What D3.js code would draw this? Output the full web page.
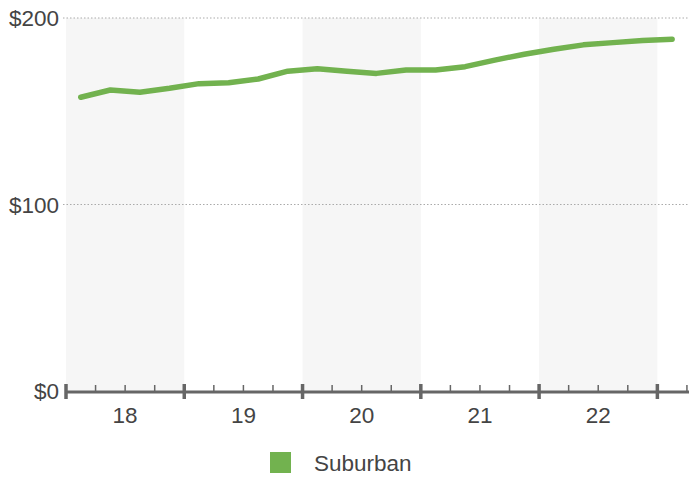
<!DOCTYPE html>
<html><head><meta charset="utf-8">
<script src="https://cdn.jsdelivr.net/npm/d3@7"></script>
<style>body{margin:0;background:#fff}svg{display:block;font-family:"Liberation Sans",Arial,sans-serif}</style>
</head><body><svg id="c" width="689" height="477"></svg>
<script>
const years = ["18","19","20","21","22"];
const quarters = ["18Q1","18Q2","18Q3","18Q4","19Q1","19Q2","19Q3","19Q4","20Q1","20Q2","20Q3","20Q4","21Q1","21Q2","21Q3","21Q4","22Q1","22Q2","22Q3","22Q4","23Q1"];
const suburban = [157.5,161.4,160.2,162.3,164.8,165.3,167.3,171.5,172.8,171.5,170.3,172.1,172.1,173.9,177.4,180.6,183.2,185.6,186.8,187.9,188.6];
const yTicks = [0,100,200];
const seriesName = "Suburban";

const svg = d3.select("#c");
const x = d3.scaleLinear().domain([0, 21.07]).range([66, 689]);
const y = d3.scaleLinear().domain([0, 200]).range([391, 18]);

// shaded bands for alternating years
years.forEach((yr, i) => {
  if (i % 2 === 0) {
    svg.append("rect").attr("x", x(i*4)).attr("y", y(200)).attr("width", x(i*4+4)-x(i*4)).attr("height", y(0)-y(200)).attr("fill", "#f6f6f6");
  }
});

// gridlines
yTicks.filter(t => t > 0).forEach(t => {
  svg.append("line").attr("x1", 63).attr("x2", 689).attr("y1", y(t)).attr("y2", y(t))
    .attr("stroke", "#aaa").attr("stroke-width", 1).attr("stroke-dasharray", "1.5,2");
});

// y labels
svg.selectAll(".yl").data(yTicks).join("text").attr("x", 59).attr("y", d => y(d)).attr("dy", "0.36em")
  .attr("text-anchor", "end").attr("font-size", 22.5).attr("fill", "#444").text(d => "$" + d);

// line
const line = d3.line().x((d, i) => x(i + 0.5)).y(d => y(d));
svg.append("path").datum(suburban).attr("d", line).attr("fill", "none").attr("stroke", "#72b24f")
  .attr("stroke-width", 5.5).attr("stroke-linecap", "round").attr("stroke-linejoin", "round");

// x axis
const ax = svg.append("g");
ax.append("line").attr("x1", 66).attr("x2", 689).attr("y1", 392).attr("y2", 392).attr("stroke", "#666").attr("stroke-width", 3);
d3.range(0, 22).forEach(q => {
  const major = q % 4 === 0;
  ax.append("line").attr("x1", x(q)).attr("x2", x(q)).attr("y1", major ? 384 : 385).attr("y2", major ? 399 : 392)
    .attr("stroke", "#666").attr("stroke-width", major ? 3.5 : 1.5);
});
svg.selectAll(".xl").data(years).join("text").attr("x", (d, i) => x(i*4+2)).attr("y", 423)
  .attr("text-anchor", "middle").attr("font-size", 22.5).attr("fill", "#444").text(d => d);

// legend
svg.append("rect").attr("x", 270).attr("y", 452).attr("width", 21).attr("height", 21).attr("fill", "#72b24f");
svg.append("text").attr("x", 314).attr("y", 471).attr("font-size", 22.5).attr("fill", "#444").text(seriesName);
</script></body></html>
